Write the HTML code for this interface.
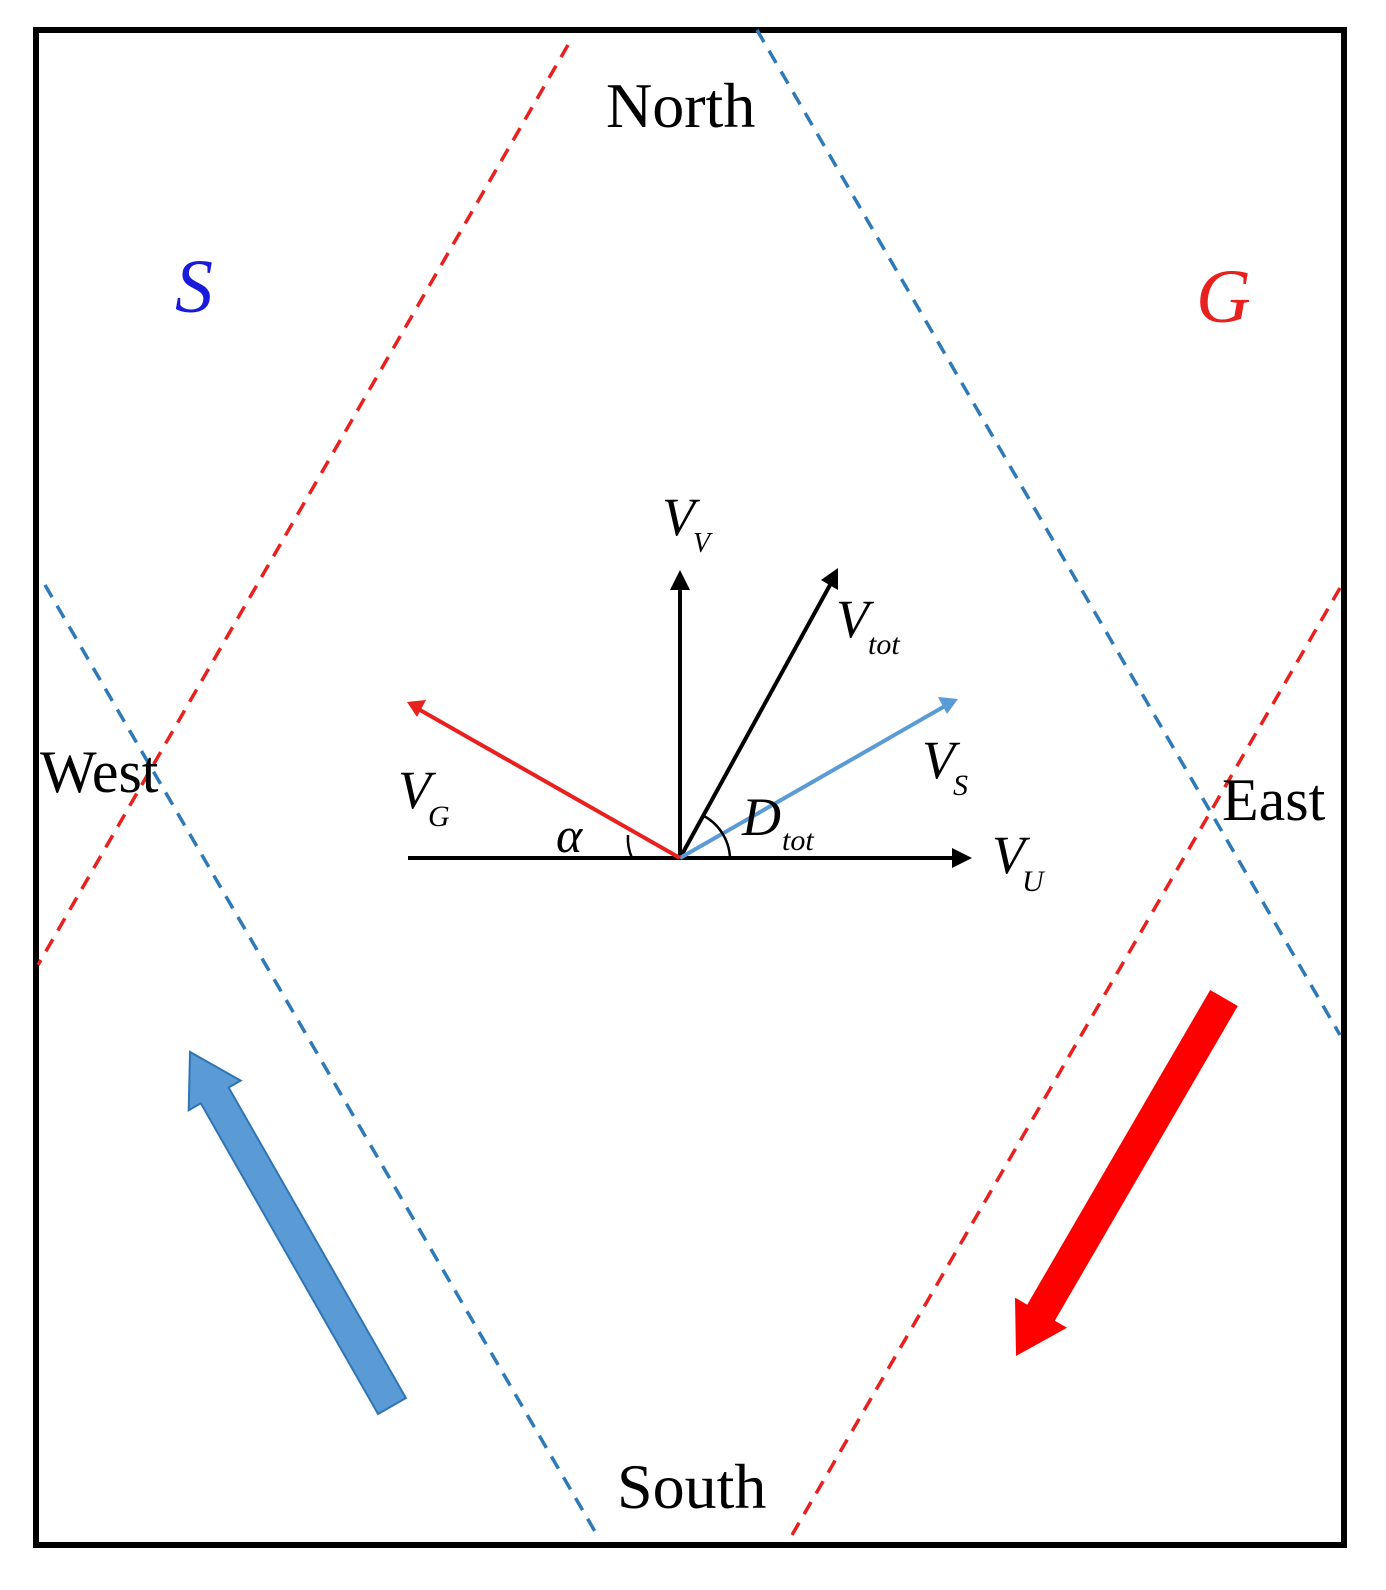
<!DOCTYPE html>
<html><head><meta charset="utf-8"><style>
html,body{margin:0;padding:0;background:#fff}
svg{display:block}
text{font-family:"Liberation Serif",serif}
.i{font-style:italic}
</style></head><body>
<svg width="1386" height="1590" viewBox="0 0 1386 1590" xmlns="http://www.w3.org/2000/svg">
<rect x="36" y="30" width="1308" height="1515" fill="#fff" stroke="#000" stroke-width="6"/>
<g stroke-width="3.5" stroke-dasharray="14,10" fill="none">
<line x1="568" y1="45" x2="38" y2="965" stroke="#e8201e"/>
<line x1="1340" y1="588" x2="792" y2="1535" stroke="#e8201e"/>
<line x1="757" y1="30" x2="1340" y2="1035" stroke="#2e7ab8"/>
<line x1="45" y1="585" x2="597" y2="1535" stroke="#2e7ab8"/>
</g>
<line x1="408" y1="858" x2="955" y2="858" stroke="#000" stroke-width="4"/>
<path d="M952,848 L972,858 L952,868 Z" fill="#000"/>
<line x1="680" y1="858" x2="680" y2="588" stroke="#000" stroke-width="4"/>
<path d="M670,590 L680,570 L690,590 Z" fill="#000"/>
<line x1="680" y1="858" x2="830" y2="585" stroke="#000" stroke-width="4"/>
<path d="M821,580 L838,568 L838,590 Z" fill="#000"/>
<line x1="680" y1="858" x2="945" y2="706" stroke="#5b9bd5" stroke-width="4"/>
<path d="M938,697 L958,699 L947,714 Z" fill="#5b9bd5"/>
<line x1="680" y1="858" x2="420" y2="710" stroke="#e8201e" stroke-width="4"/>
<path d="M426,700 L407,702 L417,717 Z" fill="#e8201e"/>
<path d="M632,858 A48,48 0 0 1 628,835" fill="none" stroke="#000" stroke-width="2.5"/>
<path d="M730,858 A50,50 0 0 0 702,815" fill="none" stroke="#000" stroke-width="2.5"/>
<polygon points="405.9,1398 228.6,1087.5 240.7,1080.6 190,1052 188.7,1110.2 200.8,1103.3 378.1,1414" fill="#5b9bd5" stroke="#2e75b6" stroke-width="2"/>
<polygon points="1237.8,1006 1054.8,1320.7 1067,1327.8 1016,1356 1015,1297.6 1027.2,1304.7 1210.2,990" fill="#ff0000"/>
<text x="606" y="127" font-size="64">North</text>
<text x="617" y="1508" font-size="64">South</text>
<text x="40" y="792" font-size="60">West</text>
<text x="1222" y="820" font-size="60">East</text>
<text x="175" y="312" font-size="76" class="i" fill="#1a1adb">S</text>
<text x="1196" y="322" font-size="76" class="i" fill="#e8201e">G</text>
<text x="662" y="535" font-size="54" class="i">V</text><text x="693" y="552" font-size="28" class="i">V</text>
<text x="836" y="637" font-size="54" class="i">V</text><text x="868" y="654" font-size="30" class="i">tot</text>
<text x="922" y="778" font-size="54" class="i">V</text><text x="953" y="795" font-size="30" class="i">S</text>
<text x="398" y="808" font-size="54" class="i">V</text><text x="428" y="826" font-size="30" class="i">G</text>
<text x="742" y="835" font-size="54" class="i">D</text><text x="782" y="850" font-size="30" class="i">tot</text>
<text x="992" y="873" font-size="54" class="i">V</text><text x="1022" y="891" font-size="30" class="i">U</text>
<text x="556" y="852" font-size="50" class="i">α</text>
</svg>
</body></html>
